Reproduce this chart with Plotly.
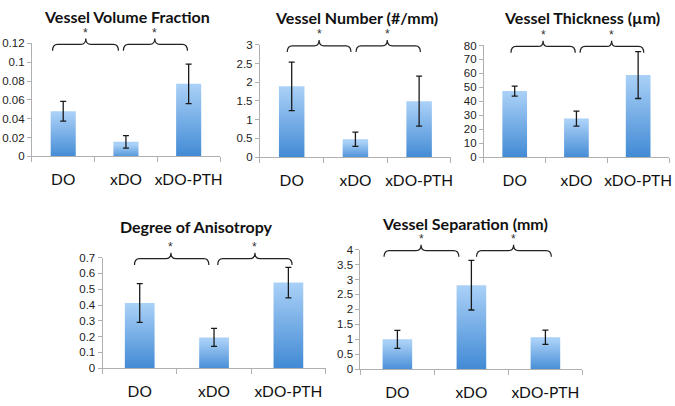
import plotly.graph_objects as go

# ---------------- data ----------------
categories = ["DO", "xDO", "xDO-PTH"]

titles = ["Vessel Volume Fraction", "Vessel Number (#/mm)", "Vessel Thickness (µm)",
          "Degree of Anisotropy", "Vessel Separation (mm)"]

vol_fraction = [0.048, 0.0155, 0.077]
vol_fraction_err = [0.0105, 0.0066, 0.021]

vessel_number = [1.89, 0.475, 1.495]
vessel_number_err = [0.65, 0.19, 0.67]

vessel_thickness = [47.3, 27.6, 58.8]
vessel_thickness_err = [3.6, 5.4, 16.8]

anisotropy = [0.413, 0.195, 0.542]
anisotropy_err = [0.122, 0.057, 0.096]

separation = [1.0, 2.81, 1.07]
separation_err = [0.3, 0.83, 0.24]

y_max = [0.12, 3, 80, 0.7, 4]
y_dtick = [0.02, 0.5, 10, 0.1, 0.5]

# ---------------- layout / style ----------------
W, H = 675, 406
# panel plot-area boxes in pixels: (x0, x1, ytop, ybottom)
boxes = [(32, 221, 38.5, 155), (261, 453, 40, 155.7), (486, 672, 40.7, 155.7),
         (103, 327, 259.3, 373.3), (362, 585, 251, 374.3)]
# title centre x, and box top y (pixels)
title_pos = [(128, 0), (358, 1.5), (585, 1.5), (197, 216.5), (467, 213)]
# bracket spans in category units: (start, end, tip)
brackets = [
    [(-0.17, 0.88, 0.36), (0.96, 1.98, 1.46)],
    [(-0.07, 0.93, 0.43), (1.01, 2.02, 1.50)],
    [(-0.06, 0.98, 0.46), (1.06, 2.09, 1.57)],
    [(-0.07, 0.93, 0.42), (1.05, 2.05, 1.55)],
    [(-0.18, 0.83, 0.32), (1.07, 2.08, 1.57)],
]

series = [(vol_fraction, vol_fraction_err), (vessel_number, vessel_number_err),
          (vessel_thickness, vessel_thickness_err), (anisotropy, anisotropy_err),
          (separation, separation_err)]

BAR_W = 0.4
TOP_C = "#a9d0f7"
BOT_C = "#3d87d3"
AXIS_C = "#b0b0b0"

fig = go.Figure()
layout = dict(width=W, height=H, margin=dict(l=0, r=0, t=0, b=0),
              paper_bgcolor="white", plot_bgcolor="white", showlegend=False)
shapes = []
annotations = []

for k, ((vals, errs), box) in enumerate(zip(series, boxes)):
    n = k + 1
    xa = "x" if n == 1 else f"x{n}"
    ya = "y" if n == 1 else f"y{n}"
    x0, x1, yt, yb = box
    ph = yb - yt
    catpx = (x1 - x0) / 3.0

    for i, v in enumerate(vals):
        fig.add_trace(go.Scatter(
            x=[i - BAR_W / 2, i + BAR_W / 2, i + BAR_W / 2, i - BAR_W / 2, i - BAR_W / 2],
            y=[0, 0, v, v, 0],
            mode="lines", line=dict(width=0), fill="toself",
            fillgradient=dict(type="vertical", colorscale=[[0, BOT_C], [1, TOP_C]],
                              start=0, stop=v),
            xaxis=xa, yaxis=ya, hoverinfo="skip"))
    fig.add_trace(go.Scatter(
        x=[0, 1, 2], y=vals, mode="markers",
        marker=dict(size=1, color="rgba(0,0,0,0)"),
        error_y=dict(type="data", array=errs, visible=True, color="#1a1a1a",
                     thickness=1.3, width=3),
        xaxis=xa, yaxis=ya, hoverinfo="skip"))

    xkey = "xaxis" if n == 1 else f"xaxis{n}"
    ykey = "yaxis" if n == 1 else f"yaxis{n}"
    layout[xkey] = dict(
        domain=[x0 / W, x1 / W], anchor=ya, range=[-0.5, 2.5],
        showline=True, linecolor=AXIS_C, linewidth=1, showgrid=False, zeroline=False,
        tickmode="array", tickvals=[0, 1, 2], ticktext=categories, ticks="",
        ticklabelstandoff=9,
        tickfont=dict(family="Lato", size=15.5, color="#111"),
        minor=dict(tickmode="array", tickvals=[-0.5, 0.5, 1.5, 2.5], ticks="outside",
                   ticklen=5, tickcolor=AXIS_C, tickwidth=1, showgrid=False),
        fixedrange=True)
    layout[ykey] = dict(
        domain=[1 - yb / H, 1 - yt / H], anchor=xa, range=[0, y_max[k]],
        tickmode="linear", tick0=0, dtick=y_dtick[k],
        showline=True, linecolor=AXIS_C, linewidth=1, showgrid=False, zeroline=False,
        ticks="outside", ticklen=4, tickcolor=AXIS_C,
        tickfont=dict(family="Liberation Sans", size=11.5, color="#222"),
        fixedrange=True)

    # title
    tx, ty = title_pos[k]
    annotations.append(dict(text=f"<b>{titles[k]}</b>", x=tx / W, y=1 - ty / H,
                            xref="paper", yref="paper", showarrow=False,
                            xanchor="center", yanchor="top", borderpad=0,
                            font=dict(family="Lato", size=16, color="#111")))

    # significance braces
    d = 5.0 / catpx
    y_line = 1 - 1.0 / ph
    y_end = 1 - 7.5 / ph
    y_tip = 1 + 5.0 / ph
    y_star = 1 + 11.0 / ph
    for (bs, be, bm) in brackets[k]:
        path = (f"M {bs},{y_end} Q {bs},{y_line} {bs + d},{y_line} "
                f"L {bm - d},{y_line} Q {bm},{y_line} {bm},{y_tip} "
                f"Q {bm},{y_line} {bm + d},{y_line} "
                f"L {be - d},{y_line} Q {be},{y_line} {be},{y_end}")
        shapes.append(dict(type="path", path=path, xref=xa, yref=f"{ya} domain",
                           line=dict(color="#222", width=1.2)))
        annotations.append(dict(text="*", x=bm, y=y_star, xref=xa, yref=f"{ya} domain",
                                showarrow=False, xanchor="center", yanchor="middle",
                                borderpad=0,
                                font=dict(family="Liberation Sans", size=12, color="#333")))

layout["shapes"] = shapes
layout["annotations"] = annotations
fig.update_layout(**layout)
fig.write_html("out.html", config={"displayModeBar": False},
               post_script="document.body.style.margin='0px';")
